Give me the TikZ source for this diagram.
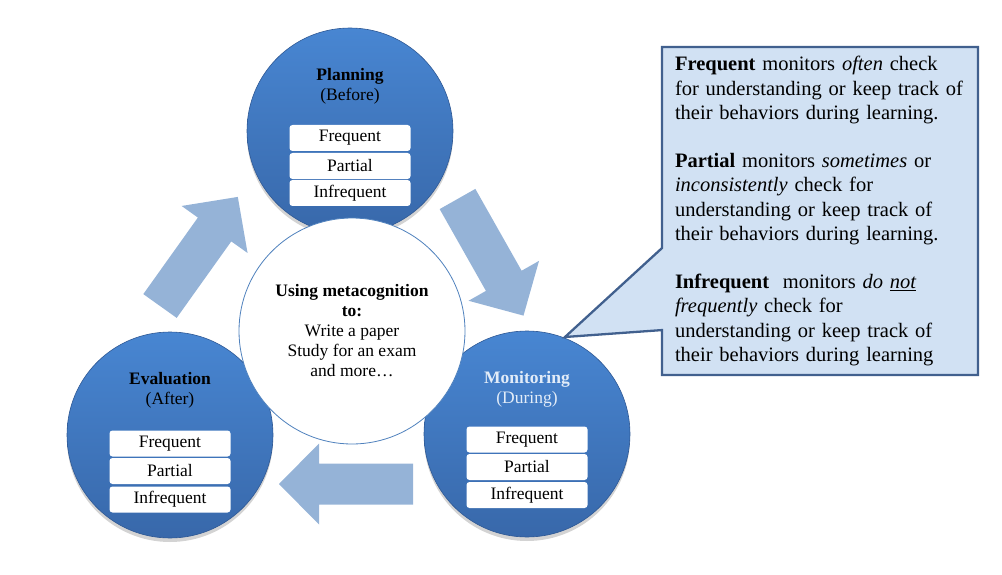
\documentclass[tikz,border=0pt]{standalone}
\usepackage{fontspec}
\setmainfont{Liberation Serif}
\usepackage{tikz}
\usetikzlibrary{shapes.callouts,shadows}
\definecolor{discblue}{RGB}{72,134,210}
\definecolor{discdark}{RGB}{56,104,170}
\definecolor{discedge}{RGB}{46,88,148}
\definecolor{arrowblue}{RGB}{149,179,215}
\definecolor{notefill}{RGB}{209,225,243}
\definecolor{noteedge}{RGB}{65,96,142}
\definecolor{hubedge}{RGB}{79,129,189}
\definecolor{palelabel}{RGB}{226,236,248}
\tikzset{disc/.style={circle,minimum size=206pt,inner sep=0pt,top color=discblue,bottom color=discdark,draw=discedge,line width=0.6pt,drop shadow={shadow xshift=0pt,shadow yshift=-4pt,opacity=0.35}}}
\tikzset{hub/.style={circle,minimum size=226pt,inner sep=0pt,fill=white,draw=hubedge,line width=0.8pt,align=center,font=\fontsize{17.5}{20}\selectfont}}
\tikzset{level/.style={rectangle,rounded corners=3pt,fill=white,minimum width=121pt,minimum height=26pt,inner sep=0pt,font=\fontsize{17.5}{20}\selectfont}}
\tikzset{phase/.style={align=center,font=\fontsize{17.5}{20}\selectfont}}
\tikzset{notebox/.style={rectangle callout,fill=notefill,draw=noteedge,line width=2.3pt,callout pointer width=82pt,minimum width=316pt,minimum height=328pt,inner sep=0pt,text width=290pt,align=left,font=\fontsize{20.5}{24.2}\selectfont}}
\tikzset{bigarrow/.pic={\fill[arrowblue] (0,-20.5)--(94,-20.5)--(94,-40.5)--(134,0)--(94,40.5)--(94,20.5)--(0,20.5)--cycle;}}

\begin{document}
\begin{tikzpicture}[x=1pt,y=-1pt]
\useasboundingbox (0,0) rectangle (1002,575);
%arrows between the phases
\pic[rotate=54.5] at (160,306) {bigarrow};
\pic[rotate=-60.5] at (457.5,199) {bigarrow};
\pic[rotate=180] at (413,484) {bigarrow};
%the three phases
\node(plan) at (350,131)[disc]{};
\node(eval) at (170,435)[disc]{};
\node(moni) at (527,434)[disc]{};
%planning
\node(plantitle) at (350,86)[phase]{\textbf{Planning}\\(Before)};
\node(planfreq) at (350,138)[level]{Frequent};
\node(planpart) at (350,166)[level]{Partial};
\node(planinfr) at (350,193)[level]{Infrequent};
%evaluation
\node(evaltitle) at (170,390)[phase]{\textbf{Evaluation}\\(After)};
\node(evalfreq) at (170,443.5)[level]{Frequent};
\node(evalpart) at (170,471)[level]{Partial};
\node(evalinfr) at (170,499.5)[level]{Infrequent};
%monitoring
\node(monititle) at (527,389)[phase,text=palelabel]{\textbf{Monitoring}\\(During)};
\node(monifreq) at (527,439.5)[level]{Frequent};
\node(monipart) at (527,467)[level]{Partial};
\node(moniinfr) at (527,495)[level]{Infrequent};
%centre
\node(hub) at (352,331)[hub]{\textbf{Using metacognition}\\\textbf{to:}\\Write a paper\\Study for an exam\\and more\ldots};
%explanation
\node(note) at (820,211)[notebox,callout absolute pointer={(565,337)}]{%
\textbf{Frequent} monitors \textit{often} check\\
for understanding or keep track of\\
their behaviors during learning.\\[24.2pt]
\textbf{Partial} monitors \textit{sometimes} or\\
\textit{inconsistently} check for\\
understanding or keep track of\\
their behaviors during learning.\\[24.2pt]
\textbf{Infrequent}~ monitors \textit{do \underline{not}}\\
\textit{frequently} check for\\
understanding or keep track of\\
their behaviors during learning};
\end{tikzpicture}
\end{document}
